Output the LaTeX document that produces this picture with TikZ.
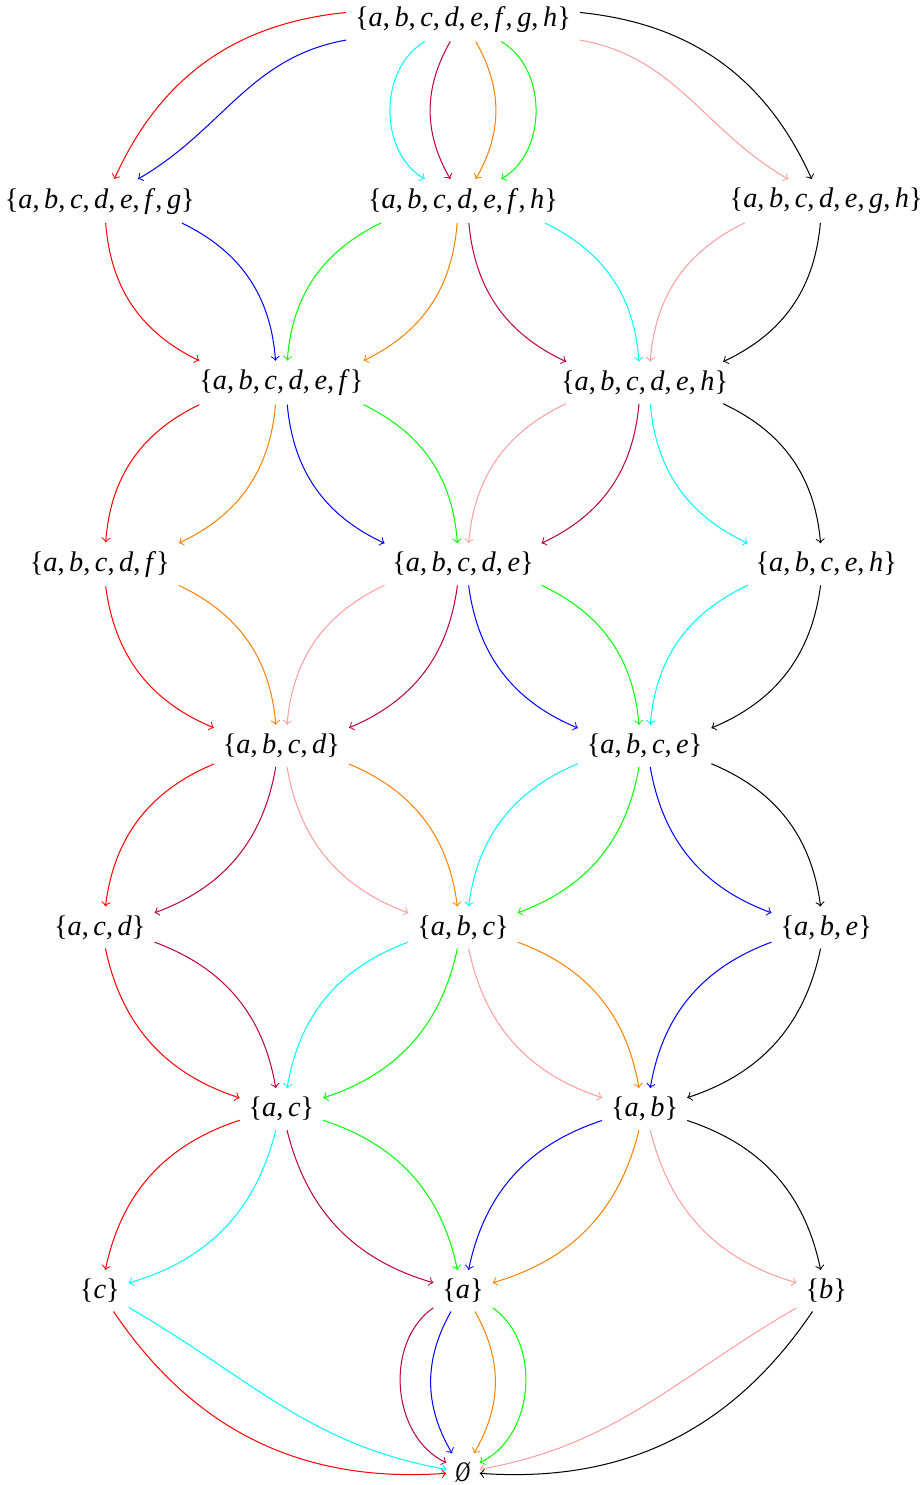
\documentclass[tikz,border=0pt]{standalone}
\usepackage{fontspec}
\setmainfont{Liberation Serif}
\definecolor{mycyan}{rgb}{0,1,1}
\definecolor{mypink}{rgb}{1,0.62,0.62}
\definecolor{myorange}{rgb}{1,0.5,0}
\definecolor{mygreen}{rgb}{0,1,0}
\definecolor{mypurple}{rgb}{0.75,0,0.25}
\newcommand\sv[1]{\textit{#1}}
\newcommand\cm{,\kern0.16em}
\begin{document}
\begin{tikzpicture}[x=2.5cm,y=-2.5cm,
  setnode/.style={inner sep=3.333pt,font=\fontsize{11.1}{13}\selectfont},
  >=to]
\useasboundingbox (-6.374cm,0.268cm) rectangle (6.333cm,-20.175cm);
\node[setnode] (n0)  at (0,0) {\{\sv{a}\cm\sv{b}\cm\sv{c}\cm\sv{d}\cm\sv{e}\cm\sv{f}\cm\sv{g}\cm\sv{h}\}};
\node[setnode] (n1l) at (-2,1) {\{\sv{a}\cm\sv{b}\cm\sv{c}\cm\sv{d}\cm\sv{e}\cm\sv{f}\cm\sv{g}\}};
\node[setnode] (n1m) at (0,1) {\{\sv{a}\cm\sv{b}\cm\sv{c}\cm\sv{d}\cm\sv{e}\cm\sv{f}\cm\sv{h}\}};
\node[setnode] (n1r) at (2,1) {\{\sv{a}\cm\sv{b}\cm\sv{c}\cm\sv{d}\cm\sv{e}\cm\sv{g}\cm\sv{h}\}};
\node[setnode] (n2l) at (-1,2) {\{\sv{a}\cm\sv{b}\cm\sv{c}\cm\sv{d}\cm\sv{e}\cm\sv{f}\}};
\node[setnode] (n2r) at (1,2) {\{\sv{a}\cm\sv{b}\cm\sv{c}\cm\sv{d}\cm\sv{e}\cm\sv{h}\}};
\node[setnode] (n3l) at (-2,3) {\{\sv{a}\cm\sv{b}\cm\sv{c}\cm\sv{d}\cm\sv{f}\}};
\node[setnode] (n3m) at (0,3) {\{\sv{a}\cm\sv{b}\cm\sv{c}\cm\sv{d}\cm\sv{e}\}};
\node[setnode] (n3r) at (2,3) {\{\sv{a}\cm\sv{b}\cm\sv{c}\cm\sv{e}\cm\sv{h}\}};
\node[setnode] (n4l) at (-1,4) {\{\sv{a}\cm\sv{b}\cm\sv{c}\cm\sv{d}\}};
\node[setnode] (n4r) at (1,4) {\{\sv{a}\cm\sv{b}\cm\sv{c}\cm\sv{e}\}};
\node[setnode] (n5l) at (-2,5) {\{\sv{a}\cm\sv{c}\cm\sv{d}\}};
\node[setnode] (n5m) at (0,5) {\{\sv{a}\cm\sv{b}\cm\sv{c}\}};
\node[setnode] (n5r) at (2,5) {\{\sv{a}\cm\sv{b}\cm\sv{e}\}};
\node[setnode] (n6l) at (-1,6) {\{\sv{a}\cm\sv{c}\}};
\node[setnode] (n6r) at (1,6) {\{\sv{a}\cm\sv{b}\}};
\node[setnode] (n7l) at (-2,7) {\{\sv{c}\}};
\node[setnode] (n7m) at (0,7) {\{\sv{a}\}};
\node[setnode] (n7r) at (2,7) {\{\sv{b}\}};
\node[setnode] (n8)  at (0,8) {\scalebox{0.72}[1]{\textit{Ø}}};
% row 0 -> 1
\draw[->,red]      (n0) to[bend right=30] (n1l);
\draw[->,blue]     (n0) to[out=-170,in=30] (n1l);
\draw[->,mycyan]   (n0) to[bend right=60] (n1m);
\draw[->,mypurple] (n0) to[bend right=30] (n1m);
\draw[->,myorange] (n0) to[bend left=30] (n1m);
\draw[->,mygreen]  (n0) to[bend left=60] (n1m);
\draw[->,mypink]   (n0) to[out=-10,in=150] (n1r);
\draw[->,black]    (n0) to[bend left=30] (n1r);
% row 1 -> 2
\draw[->,red]      (n1l) to[bend right=30] (n2l);
\draw[->,blue]     (n1l) to[bend left=30] (n2l);
\draw[->,mygreen]  (n1m) to[bend right=30] (n2l);
\draw[->,myorange] (n1m) to[bend left=30] (n2l);
\draw[->,mypurple] (n1m) to[bend right=30] (n2r);
\draw[->,mycyan]   (n1m) to[bend left=30] (n2r);
\draw[->,mypink]   (n1r) to[bend right=30] (n2r);
\draw[->,black]    (n1r) to[bend left=30] (n2r);
% row 2 -> 3
\draw[->,red]      (n2l) to[bend right=30] (n3l);
\draw[->,myorange] (n2l) to[bend left=30] (n3l);
\draw[->,blue]     (n2l) to[bend right=30] (n3m);
\draw[->,mygreen]  (n2l) to[bend left=30] (n3m);
\draw[->,mypink]   (n2r) to[bend right=30] (n3m);
\draw[->,mypurple] (n2r) to[bend left=30] (n3m);
\draw[->,mycyan]   (n2r) to[bend right=30] (n3r);
\draw[->,black]    (n2r) to[bend left=30] (n3r);
% row 3 -> 4
\draw[->,red]      (n3l) to[bend right=30] (n4l);
\draw[->,myorange] (n3l) to[bend left=30] (n4l);
\draw[->,mypink]   (n3m) to[bend right=30] (n4l);
\draw[->,mypurple] (n3m) to[bend left=30] (n4l);
\draw[->,blue]     (n3m) to[bend right=30] (n4r);
\draw[->,mygreen]  (n3m) to[bend left=30] (n4r);
\draw[->,mycyan]   (n3r) to[bend right=30] (n4r);
\draw[->,black]    (n3r) to[bend left=30] (n4r);
% row 4 -> 5
\draw[->,red]      (n4l) to[bend right=30] (n5l);
\draw[->,mypurple] (n4l) to[bend left=30] (n5l);
\draw[->,mypink]   (n4l) to[bend right=30] (n5m);
\draw[->,myorange] (n4l) to[bend left=30] (n5m);
\draw[->,mycyan]   (n4r) to[bend right=30] (n5m);
\draw[->,mygreen]  (n4r) to[bend left=30] (n5m);
\draw[->,blue]     (n4r) to[bend right=30] (n5r);
\draw[->,black]    (n4r) to[bend left=30] (n5r);
% row 5 -> 6
\draw[->,red]      (n5l) to[bend right=30] (n6l);
\draw[->,mypurple] (n5l) to[bend left=30] (n6l);
\draw[->,mycyan]   (n5m) to[bend right=30] (n6l);
\draw[->,mygreen]  (n5m) to[bend left=30] (n6l);
\draw[->,mypink]   (n5m) to[bend right=30] (n6r);
\draw[->,myorange] (n5m) to[bend left=30] (n6r);
\draw[->,blue]     (n5r) to[bend right=30] (n6r);
\draw[->,black]    (n5r) to[bend left=30] (n6r);
% row 6 -> 7
\draw[->,red]      (n6l) to[bend right=30] (n7l);
\draw[->,mycyan]   (n6l) to[bend left=30] (n7l);
\draw[->,mypurple] (n6l) to[bend right=30] (n7m);
\draw[->,mygreen]  (n6l) to[bend left=30] (n7m);
\draw[->,blue]     (n6r) to[bend right=30] (n7m);
\draw[->,myorange] (n6r) to[bend left=30] (n7m);
\draw[->,mypink]   (n6r) to[bend right=30] (n7r);
\draw[->,black]    (n6r) to[bend left=30] (n7r);
% row 7 -> 8
\draw[->,red]      (n7l) to[bend right=30] (n8);
\draw[->,mycyan]   (n7l) to[out=-30,in=170] (n8);
\draw[->,mypurple] (n7m) to[bend right=60] (n8);
\draw[->,blue]     (n7m) to[bend right=30] (n8);
\draw[->,myorange] (n7m) to[bend left=30] (n8);
\draw[->,mygreen]  (n7m) to[bend left=60] (n8);
\draw[->,mypink]   (n7r) to[out=-150,in=10] (n8);
\draw[->,black]    (n7r) to[bend left=30] (n8);
\end{tikzpicture}
\end{document}
